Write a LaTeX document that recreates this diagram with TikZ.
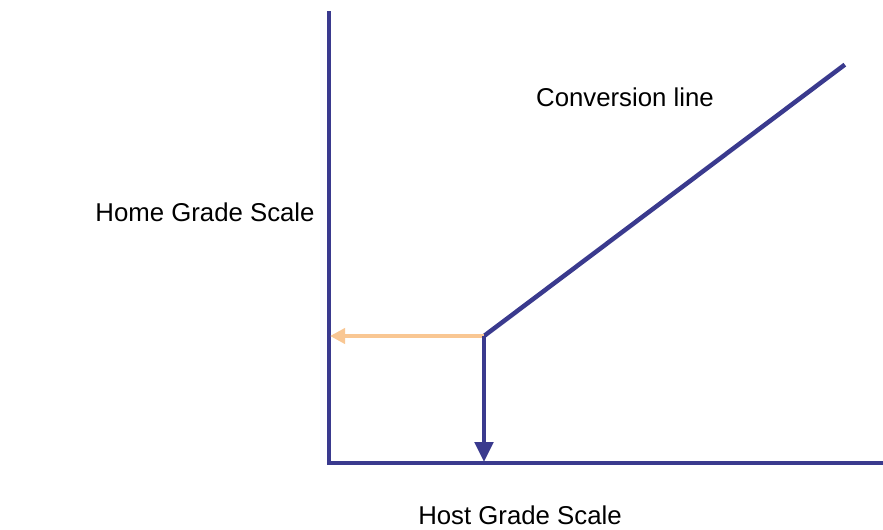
\documentclass[tikz,border=0pt]{standalone}
\usepackage{fontspec}
\setmainfont{Liberation Sans}
\usetikzlibrary{arrows.meta,calc,positioning}
\definecolor{axisblue}{HTML}{3A3A8E}
\definecolor{peach}{HTML}{F9C793}
\tikzset{
  axisline/.style={draw=axisblue,line width=0.135cm},
  readoff/.style={draw=peach,line width=0.135cm,-{Triangle[length=0.45cm,width=0.45cm]}},
  readdown/.style={draw=axisblue,line width=0.135cm,-{Triangle[length=0.6cm,width=0.55cm]}},
  lbl/.style={font=\fontsize{22}{26}\selectfont,inner sep=0pt}
}
\begin{document}
\begin{tikzpicture}[x=0.03cm,y=-0.03cm]
  \useasboundingbox (0,0) rectangle (883,530);
  % Axes
  \coordinate (origin) at (329,463);
  \coordinate (ytop) at (329,11);
  \coordinate (xend) at (883,463);
  \draw[axisline] (ytop) -- (origin) -- (xend);

  % Conversion line and reading point
  \coordinate (grade) at (484,336);
  \coordinate (lineend) at (843,66);
  \draw[axisline,line cap=rect] (grade) -- (lineend);

  % Read-off arrows
  \coordinate (homept) at (330,336);
  \coordinate (hostpt) at (484,462);
  \draw[readoff] (grade) -- (homept);
  \draw[readdown] (grade) -- (hostpt);

  % Labels
  \node[lbl] (homelbl) at (205,212) {Home Grade Scale};
  \node[lbl] (convlbl) at (625,97) {Conversion line};
  \node[lbl] (hostlbl) at (520,515) {Host Grade Scale};
\end{tikzpicture}
\end{document}
